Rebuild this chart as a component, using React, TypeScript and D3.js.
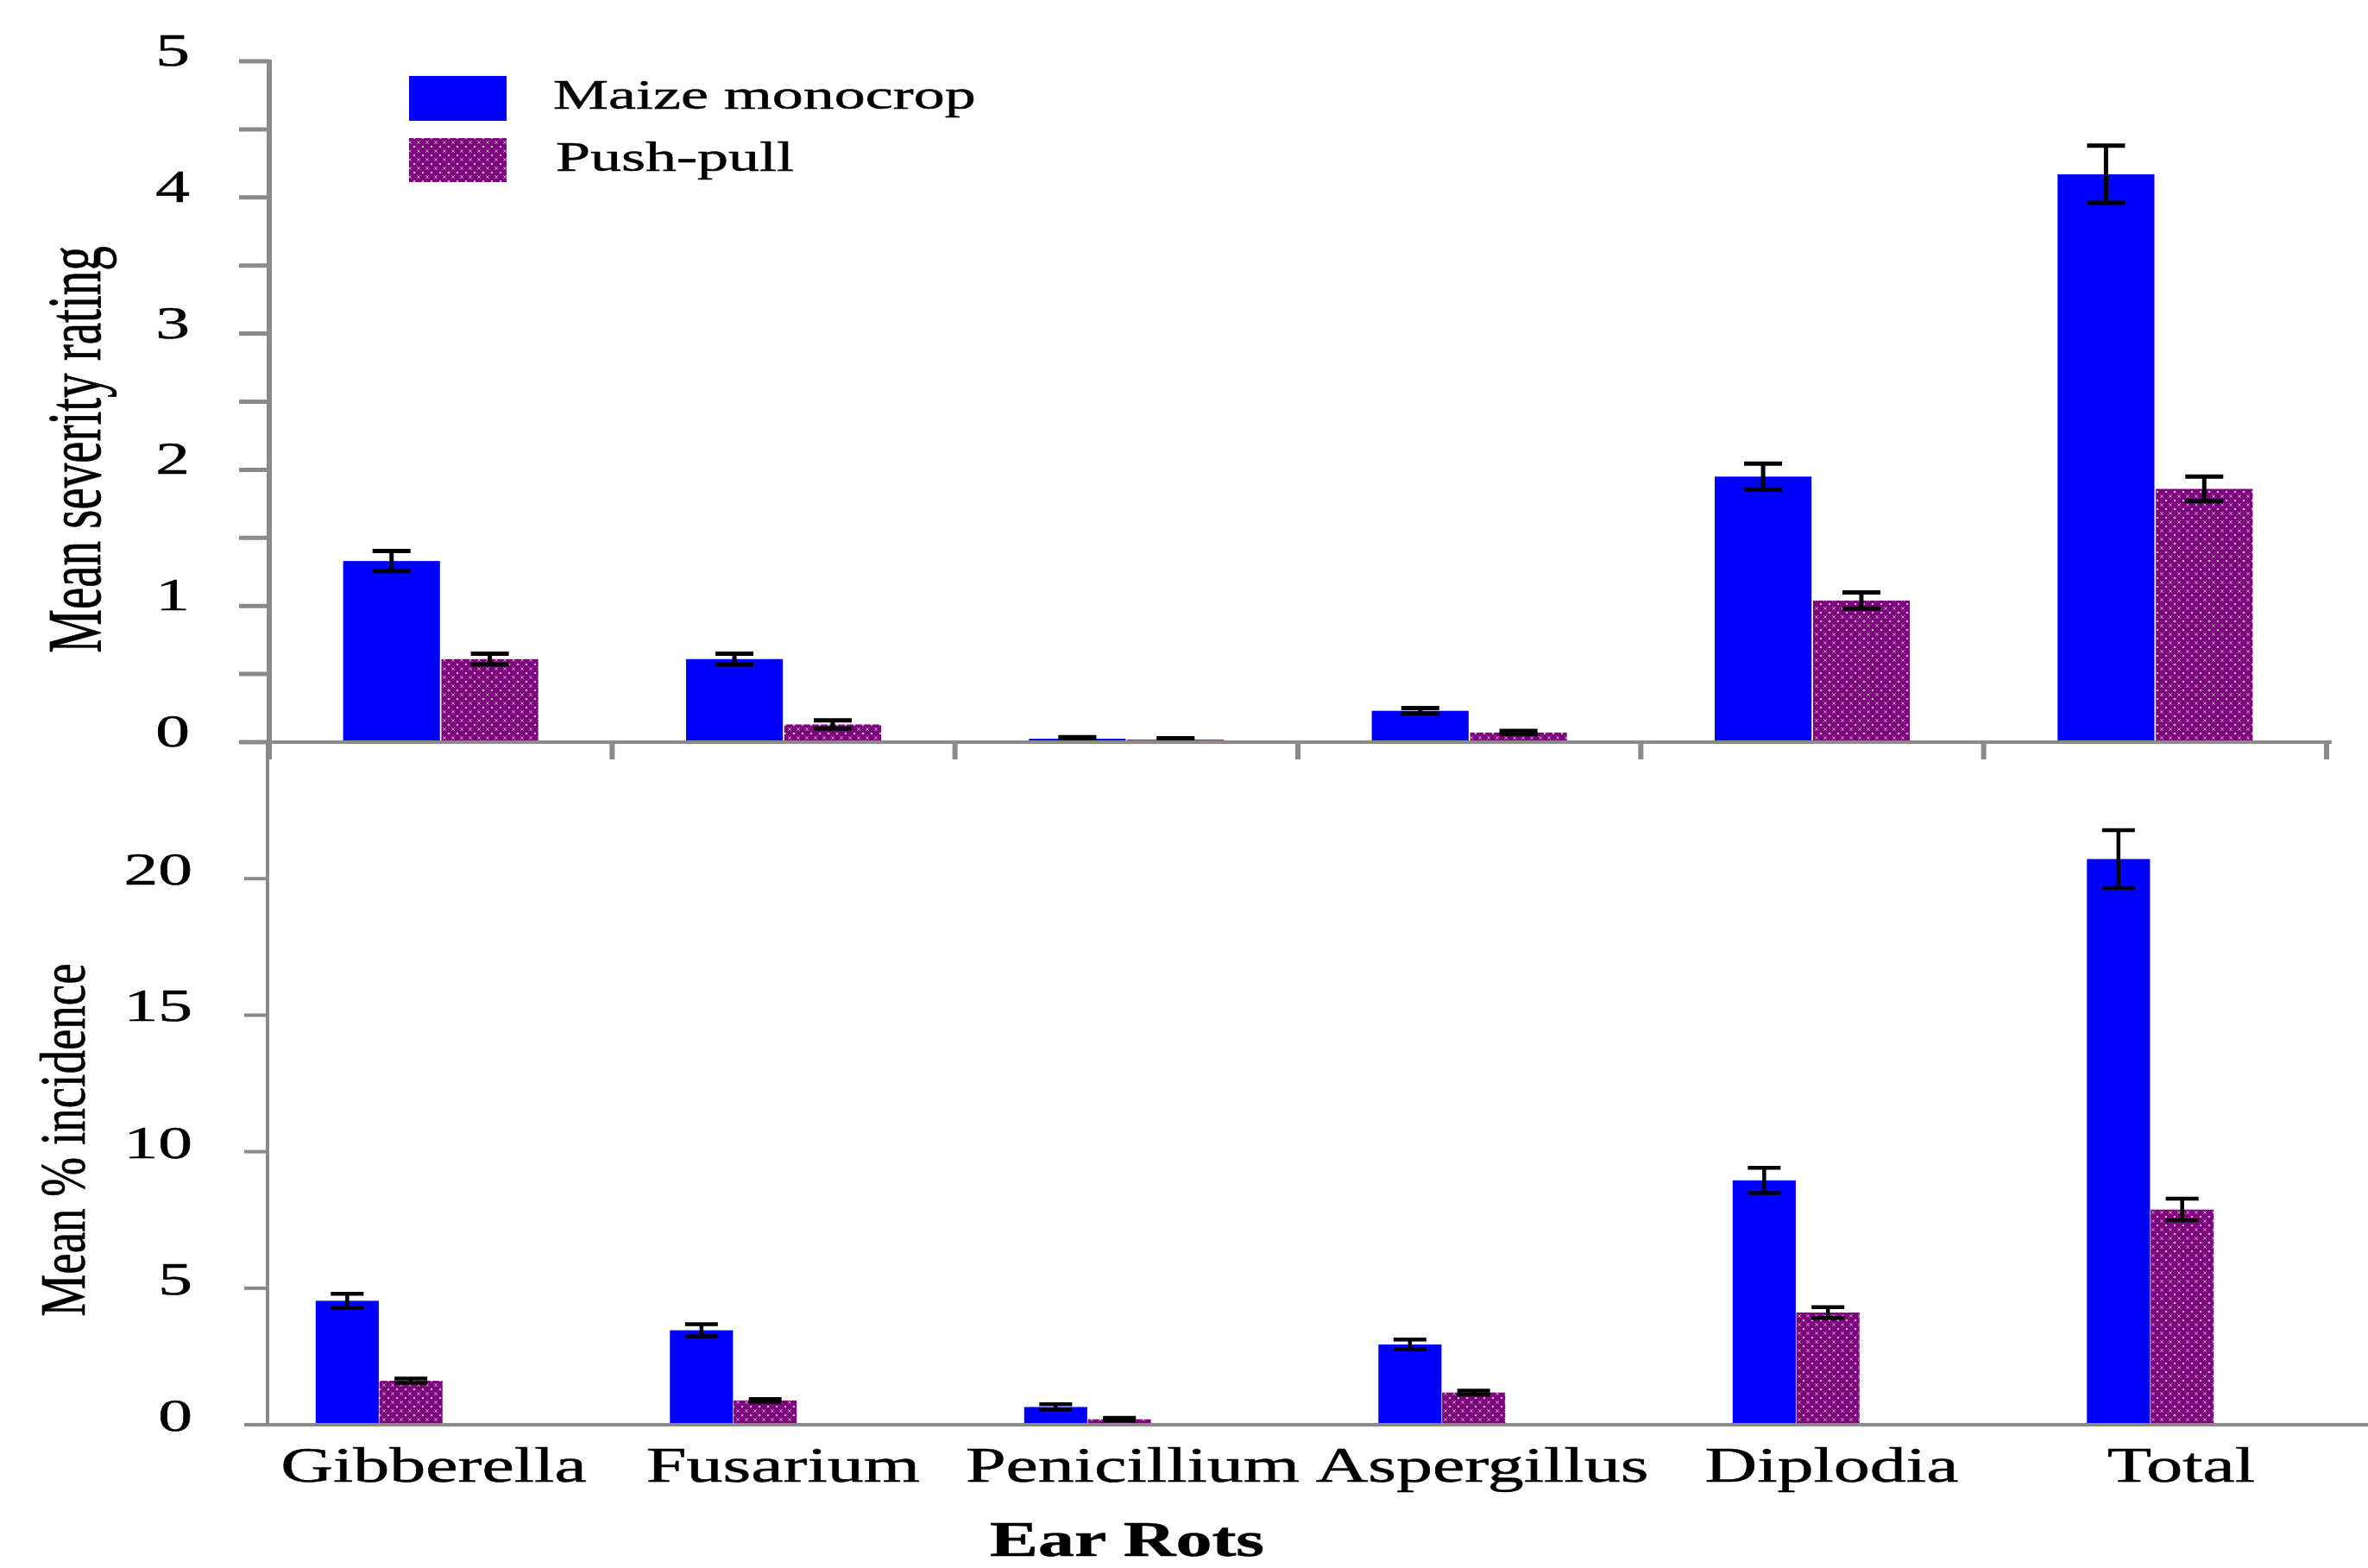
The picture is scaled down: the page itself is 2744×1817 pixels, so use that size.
import React from 'react';
import * as d3 from 'd3';

const categories = ['Gibberella', 'Fusarium', 'Penicillium', 'Aspergillus', 'Diplodia', 'Total'];
const seriesNames = ['Maize monocrop', 'Push-pull'];

const severityMono = [1.33, 0.61, 0.025, 0.23, 1.95, 4.17];
const severityMonoErr = [0.073, 0.04, 0.012, 0.02, 0.095, 0.21];
const severityPush = [0.61, 0.13, 0.018, 0.07, 1.04, 1.86];
const severityPushErr = [0.04, 0.03, 0.01, 0.012, 0.06, 0.09];

const incidenceMono = [4.54, 3.46, 0.65, 2.94, 8.95, 20.72];
const incidenceMonoErr = [0.26, 0.22, 0.1, 0.18, 0.46, 1.06];
const incidencePush = [1.61, 0.89, 0.2, 1.18, 4.11, 7.88];
const incidencePushErr = [0.08, 0.05, 0.05, 0.07, 0.2, 0.4];

const severityTicks = d3.range(0, 5.01, 0.5);
const incidenceTicks = [0, 5, 10, 15, 20];

const W = 2744;
const H = 1817;
const FONT = '"Liberation Serif", "Times New Roman", serif';
const SX = 1.5;
const AXIS = '#8a8a8a';
const BLUE = '#0000ff';

function SText({ x, y, size, anchor = 'start', weight = 'normal', rotate = false, sx = SX, children }: any) {
  return (
    <g transform={`translate(${x},${y}) scale(${sx},1)${rotate ? ' rotate(-90)' : ''}`}>
      <text
        fontFamily={FONT}
        fontSize={size}
        textAnchor={anchor}
        fontWeight={weight}
        fill="#000"
        stroke="#000"
        strokeWidth={0.5}
      >
        {children}
      </text>
    </g>
  );
}

function ErrorBar({ x, yTop, yBot, cap, sw }: any) {
  return (
    <g stroke="#000" strokeWidth={sw} fill="none">
      <line x1={x} x2={x} y1={yTop} y2={yBot} />
      <line x1={x - cap / 2} x2={x + cap / 2} y1={yTop} y2={yTop} />
      <line x1={x - cap / 2} x2={x + cap / 2} y1={yBot} y2={yBot} />
    </g>
  );
}

export default function App() {
  // top panel scales
  const xTop = d3.scaleBand<string>().domain(categories).range([312, 2696]).paddingInner(0.431).paddingOuter(0.2155);
  const subTop = d3.scaleBand<string>().domain(seriesNames).range([0, xTop.bandwidth()]).paddingInner(0.015);
  const yTop = d3.scaleLinear().domain([0, 5]).range([860, 71]);

  // bottom panel scales
  const xBot = d3.scaleBand<string>().domain(categories).range([234, 2697]).paddingInner(0.642).paddingOuter(0.321);
  const subBot = d3.scaleBand<string>().domain(seriesNames).range([0, xBot.bandwidth()]).paddingInner(0.01);
  const yBot = d3.scaleLinear().domain([0, 25]).range([1651, 860]);

  // category label positions
  const xLab = d3.scaleBand<string>().domain(categories).range([300, 2730]);

  const topSeries = [
    { name: seriesNames[0], vals: severityMono, errs: severityMonoErr, fill: BLUE },
    { name: seriesNames[1], vals: severityPush, errs: severityPushErr, fill: 'url(#pp)' },
  ];
  const botSeries = [
    { name: seriesNames[0], vals: incidenceMono, errs: incidenceMonoErr, fill: BLUE },
    { name: seriesNames[1], vals: incidencePush, errs: incidencePushErr, fill: 'url(#pp)' },
  ];

  const xTickPositions = categories.map((c) => xTop(c)! - (xTop.step() - xTop.bandwidth()) / 2).concat([2696]);

  return (
    <svg width={W} height={H} style={{ position: 'absolute', left: 0, top: 0, background: '#fff' }}>
      <defs>
        <pattern id="pp" width="10" height="10" patternUnits="userSpaceOnUse">
          <rect width="10" height="10" fill="#800080" />
          <circle cx="0" cy="0" r="1.3" fill="#b8b8b8" />
          <circle cx="10" cy="0" r="1.3" fill="#b8b8b8" />
          <circle cx="0" cy="10" r="1.3" fill="#b8b8b8" />
          <circle cx="10" cy="10" r="1.3" fill="#b8b8b8" />
          <path d="M3.2,3.2 L6.8,6.8 M6.8,3.2 L3.2,6.8" stroke="#a8a8a8" strokeWidth="1" />
        </pattern>
      </defs>
      <rect width={W} height={H} fill="#fff" />

      {/* ===== Top panel ===== */}
      {topSeries.map((s) =>
        categories.map((c, i) => {
          const x = xTop(c)! + subTop(s.name)!;
          return (
            <rect key={s.name + c} x={x} y={yTop(s.vals[i])} width={subTop.bandwidth()} height={yTop(0) - yTop(s.vals[i])} fill={s.fill} />
          );
        })
      )}
      {topSeries.map((s) =>
        categories.map((c, i) => {
          const cx = xTop(c)! + subTop(s.name)! + subTop.bandwidth() / 2;
          return (
            <ErrorBar key={'e' + s.name + c} x={cx} yTop={yTop(s.vals[i] + s.errs[i])} yBot={yTop(s.vals[i] - s.errs[i])} cap={44} sw={5} />
          );
        })
      )}
      {/* top y axis */}
      <line x1={312} x2={312} y1={yTop(5) - 2} y2={880} stroke={AXIS} strokeWidth={6} />
      {severityTicks.map((t) => (
        <line key={'yt' + t} x1={277} x2={312} y1={yTop(t)} y2={yTop(t)} stroke={AXIS} strokeWidth={5} />
      ))}
      {severityTicks.filter((t) => Number.isInteger(t)).map((t) => (
        <SText key={'ytl' + t} x={220} y={yTop(t) + 5} size={53} anchor="end">
          {d3.format('d')(t)}
        </SText>
      ))}
      {/* top x axis */}
      <line x1={277} x2={2702} y1={yTop(0)} y2={yTop(0)} stroke={AXIS} strokeWidth={4} />
      {xTickPositions.map((x, i) => (
        <line key={'xt' + i} x1={x} x2={x} y1={yTop(0)} y2={880} stroke={AXIS} strokeWidth={6} />
      ))}

      {/* legend */}
      <rect x={474} y={88} width={113} height={52} fill={BLUE} />
      <rect x={474} y={160} width={113} height={51} fill="url(#pp)" />
      <SText x={641} y={126} size={48}>{seriesNames[0]}</SText>
      <SText x={644} y={198} size={48}>{seriesNames[1]}</SText>

      {/* y title top */}
      <SText x={116} y={521} size={57} anchor="middle" rotate sx={1.55}>
        Mean severity rating
      </SText>

      {/* ===== Bottom panel ===== */}
      {botSeries.map((s) =>
        categories.map((c, i) => {
          const x = xBot(c)! + subBot(s.name)!;
          return (
            <rect key={'b' + s.name + c} x={x} y={yBot(s.vals[i])} width={subBot.bandwidth()} height={yBot(0) - yBot(s.vals[i])} fill={s.fill} />
          );
        })
      )}
      {botSeries.map((s) =>
        categories.map((c, i) => {
          const cx = xBot(c)! + subBot(s.name)! + subBot.bandwidth() / 2;
          return (
            <ErrorBar key={'be' + s.name + c} x={cx} yTop={yBot(s.vals[i] + s.errs[i])} yBot={yBot(s.vals[i] - s.errs[i])} cap={38} sw={4.5} />
          );
        })
      )}
      <line x1={310} x2={310} y1={yTop(0)} y2={yBot(0)} stroke={AXIS} strokeWidth={4} />
      {incidenceTicks.map((t) => (
        <line key={'yb' + t} x1={283} x2={310} y1={yBot(t)} y2={yBot(t)} stroke={AXIS} strokeWidth={4} />
      ))}
      {incidenceTicks.map((t) => (
        <SText key={'ybl' + t} x={223} y={yBot(t) + 7} size={53} anchor="end">
          {d3.format('d')(t)}
        </SText>
      ))}
      <line x1={283} x2={W} y1={yBot(0)} y2={yBot(0)} stroke={AXIS} strokeWidth={4} />

      {categories.map((c) => (
        <SText key={'cl' + c} x={xLab(c)! + xLab.bandwidth() / 2} y={1717} size={56} anchor="middle">
          {c}
        </SText>
      ))}

      <SText x={98} y={1321} size={55} anchor="middle" rotate sx={1.35}>
        Mean % incidence
      </SText>
      <SText x={1306} y={1803} size={56} anchor="middle" weight="bold">
        Ear Rots
      </SText>
    </svg>
  );
}
